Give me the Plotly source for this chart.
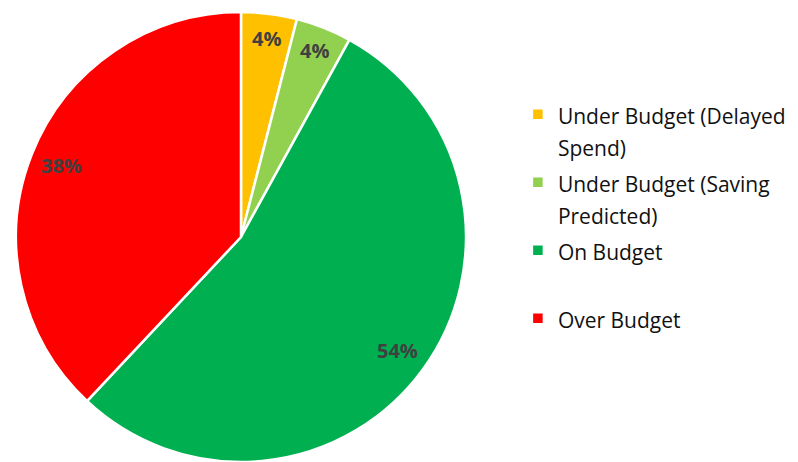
import math
import plotly.graph_objects as go

# Budget status breakdown (percent of projects)
categories = [
    "Under Budget (Delayed Spend)",
    "Under Budget (Saving Predicted)",
    "On Budget",
    "Over Budget",
]
legend_lines = [
    ["Under Budget (Delayed", "Spend)"],
    ["Under Budget (Saving", "Predicted)"],
    ["On Budget", "&nbsp;"],
    ["Over Budget"],
]
values = [4, 4, 54, 38]
colors = ["#FFC000", "#92D050", "#00B050", "#FF0000"]

W, H = 798, 462
FONT = "'Open Sans', 'Noto Sans', sans-serif"

# pie placement (paper fractions)
dom_x = [0.020, 0.584]
dom_y = [0.0, 0.974]


def legend_name(lines):
    return "<br>".join(f"<span style='font-size:21px'>{ln}</span>" for ln in lines)


fig = go.Figure(
    go.Pie(
        labels=[legend_name(l) for l in legend_lines],
        values=values,
        marker=dict(colors=colors, line=dict(color="white", width=2.5)),
        sort=False,
        direction="clockwise",
        rotation=0,
        textinfo="none",
        hoverinfo="label+percent",
        domain=dict(x=dom_x, y=dom_y),
    )
)

# percentage labels placed near the outer edge of each slice
cx_px = (dom_x[0] + dom_x[1]) / 2 * W
cy_px = (1 - (dom_y[0] + dom_y[1]) / 2) * H
radius_px = min((dom_x[1] - dom_x[0]) * W, (dom_y[1] - dom_y[0]) * H) / 2
total = sum(values)
cum = 0
annotations = []
for v in values:
    mid = (cum + v / 2) / total * 2 * math.pi
    cum += v
    r = radius_px * (0.89 if v < 10 else 0.86)
    x_px = cx_px + r * math.sin(mid)
    y_px = cy_px - r * math.cos(mid)
    annotations.append(
        dict(
            x=x_px / W,
            y=1 - y_px / H,
            xref="paper",
            yref="paper",
            xanchor="center",
            yanchor="middle",
            text=f"<b>{round(v / total * 100)}%</b>",
            showarrow=False,
            font=dict(family=FONT, size=20, color="#404040"),
        )
    )

fig.update_layout(
    width=W,
    height=H,
    margin=dict(l=0, r=0, t=0, b=0),
    paper_bgcolor="white",
    plot_bgcolor="white",
    annotations=annotations,
    showlegend=True,
    legend=dict(
        x=0.649,
        y=0.802,
        xanchor="left",
        yanchor="top",
        valign="top",
        font=dict(family=FONT, size=25, color="#111111"),
        bgcolor="rgba(0,0,0,0)",
        itemclick=False,
    ),
)

fig.write_html("out.html")
